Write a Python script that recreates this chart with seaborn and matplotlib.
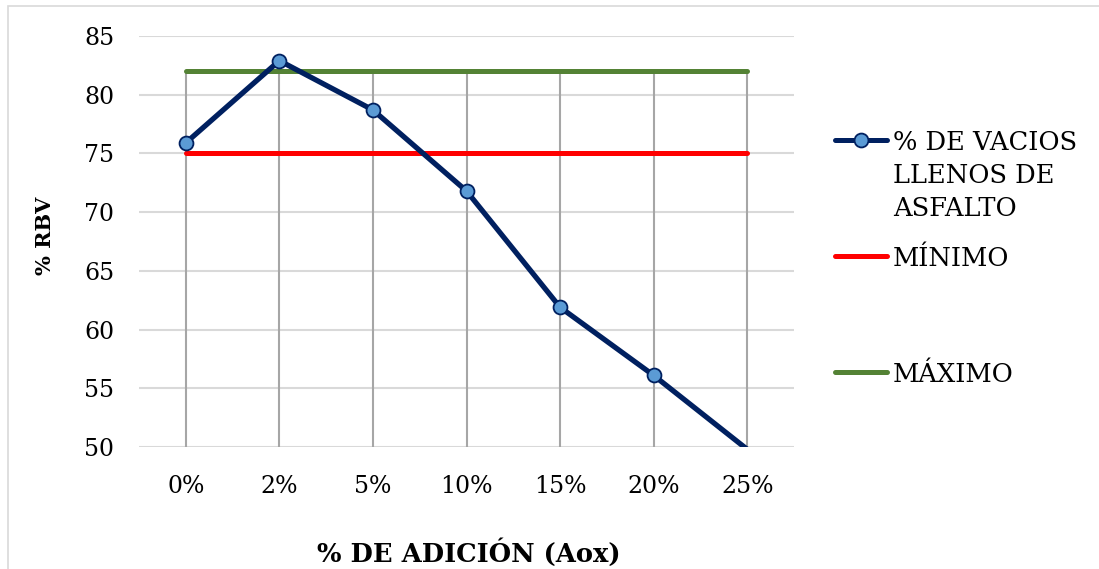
import matplotlib
matplotlib.use("Agg")
import matplotlib.pyplot as plt
from matplotlib.lines import Line2D
from matplotlib.patches import Rectangle
import numpy as np
import pandas as pd
import seaborn as sns

# Data
categories = ["0%", "2%", "5%", "10%", "15%", "20%", "25%"]
rbv = [75.9, 82.9, 78.7, 71.8, 61.9, 56.1, 49.8]
minimo = [75, 75, 75, 75, 75, 75, 75]
maximo = [82, 82, 82, 82, 82, 82, 82]
y_ticks = [50, 55, 60, 65, 70, 75, 80, 85]

label_rbv = "% DE VACIOS\nLLENOS DE\nASFALTO"
label_min = "MÍNIMO"
label_max = "MÁXIMO"

NAVY = "#002060"
FILL = "#5b9bd5"
RED = "#ff0000"
GREEN = "#548235"

sns.set_theme(style="white")
plt.rcParams["font.family"] = ["DejaVu Serif"]
plt.rcParams["text.color"] = "black"
plt.rcParams["axes.labelcolor"] = "black"

df = pd.DataFrame({"pos": np.arange(len(categories)), "rbv": rbv,
                   "min": minimo, "max": maximo})

W, H = 1099, 569
fig = plt.figure(figsize=(W / 100, H / 100), dpi=100)
ax = fig.add_axes([139 / W, 1 - 447 / H, 655 / W, 411 / H])

ymin, ymax = 50, 85

# drop lines from the highest series down to the axis
top = np.maximum.reduce([np.array(rbv), np.array(minimo), np.array(maximo)])
ax.vlines(df["pos"], ymin, np.minimum(top, ymax), color="#a6a6a6", lw=1.5, zorder=1)

sns.lineplot(data=df, x="pos", y="min", ax=ax, color=RED, lw=3.6,
             solid_capstyle="round", zorder=3)
sns.lineplot(data=df, x="pos", y="max", ax=ax, color=GREEN, lw=3.6,
             solid_capstyle="round", zorder=3)
visible = [i for i, v in enumerate(rbv) if v >= ymin]
sns.lineplot(data=df, x="pos", y="rbv", ax=ax, color=NAVY, lw=3.8,
             marker="o", markersize=10, markerfacecolor=FILL,
             markeredgecolor=NAVY, markeredgewidth=1.3, markevery=visible,
             solid_capstyle="round", zorder=4)

ax.set_xlim(-0.5, len(categories) - 0.5)
ax.set_ylim(ymin, ymax)
ax.set_yticks(y_ticks)
ax.set_xticks(df["pos"])
ax.set_xticklabels(categories)
ax.grid(axis="y", color="#d9d9d9", lw=1.5)
ax.set_axisbelow(True)
for s in ax.spines.values():
    s.set_visible(False)
ax.tick_params(axis="both", length=0, labelsize=17, colors="black")
ax.tick_params(axis="y", pad=18)
ax.tick_params(axis="x", pad=20)

ax.set_xlabel("% DE ADICIÓN (Aox)", fontsize=18.5, fontweight="bold", va="center",
              color="black")
ax.xaxis.set_label_coords((469 - 139) / 655, -(553 - 447) / 411)
ax.set_ylabel("% RBV", fontsize=15, fontweight="bold", va="center", color="black")
ax.yaxis.set_label_coords(-(139 - 45) / 655, (447 - 236) / 411)

# legend, drawn in figure pixels
def fx(px):
    return px / W

def fy(py):
    return 1 - py / H

entries = [
    (label_rbv, NAVY, True, 140),
    (label_min, RED, False, 256),
    (label_max, GREEN, False, 372),
]
for text, color, has_marker, py in entries:
    fig.add_artist(Line2D([fx(835), fx(887)], [fy(py), fy(py)], color=color, lw=3.6,
                          solid_capstyle="round", transform=fig.transFigure))
    if has_marker:
        fig.add_artist(Line2D([fx(861)], [fy(py)], marker="o", markersize=10,
                              markerfacecolor=FILL, markeredgecolor=NAVY,
                              markeredgewidth=1.3, transform=fig.transFigure))
    lines = text.split("\n")
    for k, line in enumerate(lines):
        fig.text(fx(893), fy(py + 10 + 33 * k), line, fontsize=18.5,
                 va="baseline", ha="left", color="black")

# outer chart frame
fig.add_artist(Rectangle((fx(8), -0.1), 1.2, fy(6) + 0.1, fill=False,
                         edgecolor="#d9d9d9", lw=1.2, transform=fig.transFigure))

fig.savefig("out.png", dpi=100)
